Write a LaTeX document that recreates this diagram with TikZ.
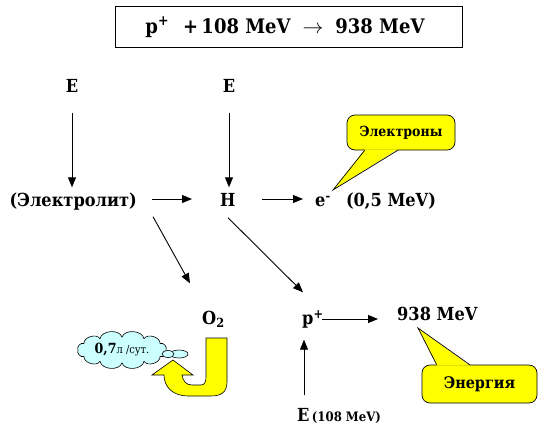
\documentclass[tikz,border=0pt]{standalone}
\usepackage{fontspec}
\setmainfont{DejaVu Serif}[FakeStretch=0.9]
\usetikzlibrary{arrows.meta,shapes.geometric,calc}
\definecolor{cloudc}{HTML}{CCFFFF}
\definecolor{yel}{HTML}{FFFF00}
\begin{document}
\begin{tikzpicture}[x=1pt,y=-1pt,
  lbl/.style={font=\fontsize{18}{21}\selectfont\bfseries, inner sep=2pt, text height=13pt, text depth=4pt},
  arr/.style={-{Triangle[length=10pt,width=8pt]}, line width=0.9pt},
  callout/.style={draw, fill=yel, rounded corners=8pt, line width=0.7pt, font=\fontsize{14}{16}\selectfont\bfseries},
  bubble/.style={ellipse, draw, fill=cloudc, inner sep=0pt, line width=0.6pt},
  puff/.style={bend right=75}]
\fill[white] (0,0) rectangle (544,432);
\useasboundingbox (0,0) rectangle (544,432);
% title
\node[draw, line width=1pt, minimum width=347pt, minimum height=41pt] (tb) at (288.5,26.5) {};
\node[font=\fontsize{20}{24}\selectfont\bfseries] (tt) at (285,27) {p\textsuperscript{+}\hspace{0.7em}+\,108 MeV\hspace{0.6em}$\rightarrow$\hspace{0.6em}938 MeV};
% labels
\node[lbl] (E1) at (72,88) {E};
\node[lbl] (E2) at (229,88) {E};
\node[lbl, anchor=east] (el) at (139,202) {(Электролит)};
\node[lbl, anchor=west] (H) at (218,202) {H};
\node[lbl, anchor=west] (e) at (313,202) {e\textsuperscript{-}};
\node[lbl] (m05) at (391,202) {(0,5 MeV)};
\node[lbl, anchor=west] (O2) at (200,320) {O\textsubscript{2}};
\node[lbl, anchor=west] (p) at (300,320) {p\textsuperscript{+}};
\node[lbl, anchor=west] (m938) at (395,316) {938 MeV};
\node[lbl, anchor=west] (E3) at (295,417) {E};
\node[lbl, anchor=west, font=\fontsize{13}{15}\selectfont\bfseries, inner sep=0pt] (E3s) at (E3.east) {(108 MeV)};
% arrows
\draw[arr, shorten >=4pt] ($(E1.south)+(0,14)$) -- (E1 |- el.north);
\draw[arr, shorten >=4pt] ($(E2.south)+(0,14)$) -- (E2 |- H.north);
\draw[arr] ($(el.east)+(13,-3)$) -- ($(H.west)+(-26,-3)$);
\draw[arr] ($(H.west)+(44,-3)$) -- ($(e.west)+(-10,-3)$);
\draw[arr] ($(el.south east)+(14,4)$) -- ($(O2.north west)+(-10,-26)$);
\draw[arr] ($(H.south west)+(10,5)$) -- ($(p.north west)+(3,-17)$);
\draw[arr] ($(p.west)+(22,-1)$) -- ($(m938.west)+(-17,3)$);
\draw[arr] ($(E3.north west)+(9,-11)$) -- ($(p.south west)+(4,9)$);
% callout Электроны
\node[callout, minimum width=108pt, minimum height=35pt] (cE) at (401,132.5) {Электроны};
\coordinate (tipE) at (333,190);
\fill[yel] ($(cE.south west)+(18,-1)$) -- (tipE) -- ($(cE.south west)+(51,-1)$) -- cycle;
\draw[line width=0.7pt] ($(cE.south west)+(18,0)$) -- (tipE) -- ($(cE.south west)+(51,0)$);
% callout Энергия
\node[callout, minimum width=115pt, minimum height=38pt, font=\fontsize{16}{18}\selectfont\bfseries] (cN) at (479.5,384) {Энергия};
\coordinate (tipN) at (418,328);
\fill[yel] ($(cN.north west)+(15,1)$) -- (tipN) -- ($(cN.north west)+(48,1)$) -- cycle;
\draw[line width=0.7pt] ($(cN.north west)+(15,0)$) -- (tipN) -- ($(cN.north west)+(48,0)$);
% cloud (ellipse centre (122,350), radii 44 x 13)
\draw[fill=cloudc, line width=0.6pt] (166,350) to[puff] (160.1,343.5) to[puff] (144,338.7) to[puff] (122,337)
  to[puff] (100,338.7) to[puff] (83.9,343.5) to[puff] (78,350) to[puff] (83.9,356.5) to[puff] (100,361.3)
  to[puff] (122,363) to[puff] (144,361.3) to[puff] (160.1,356.5) to[puff] (166,350) -- cycle;
\node (clt) at (122,350) {{\fontsize{14}{16}\selectfont\bfseries 0,7}{\fontsize{11}{13}\selectfont л /сут.}};
\node[bubble, minimum width=18pt, minimum height=8pt] (b2) at (179,354) {};
\node[bubble, minimum width=12pt, minimum height=7pt] (b1) at (168,354) {};
% yellow J arrow
\draw[fill=yel, line width=0.6pt] (227,338) -- (227,382) .. controls (227,394) and (219,396) .. (210,396) -- (188,396) .. controls (173,396) and (164,387) .. (164,375) -- (152,375) -- (173,360) -- (193,375) -- (182,375) .. controls (183,381) and (186,385) .. (192,385) -- (201,385) .. controls (205,385) and (206,381) .. (206,377) -- (206,338) -- cycle;
\end{tikzpicture}
\end{document}
